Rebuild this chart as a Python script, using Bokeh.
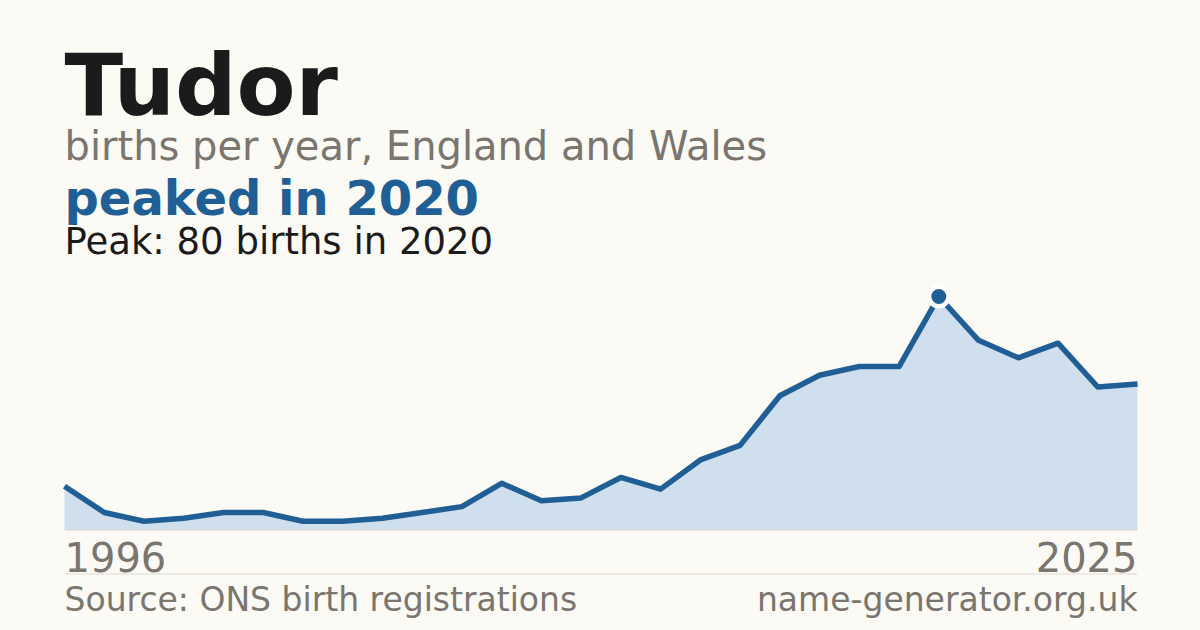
from bokeh.plotting import figure
from bokeh.models import Label, Range1d
from bokeh.embed import file_html
from bokeh.resources import INLINE

# ---- data ----
name = "Tudor"
years = [1996, 1997, 1998, 1999, 2001, 2002, 2003, 2004, 2005, 2006,
         2007, 2008, 2009, 2010, 2011, 2012, 2013, 2014, 2015, 2016,
         2017, 2018, 2020, 2021, 2022, 2023, 2024, 2025]
births = [15, 6, 3, 4, 6, 6, 3, 3, 4, 6,
          8, 16, 10, 11, 18, 14, 24, 29, 46, 53,
          56, 56, 80, 65, 59, 64, 49, 50]
subtitle = "births per year, England and Wales"
source = "Source: ONS birth registrations"
site = "name-generator.org.uk"

# ---- style / layout ----
BG = "#fbfaf5"
BLUE = "#1f5f96"
FILL = "#cfdfee"
GREY = "#7a756e"
DARK = "#1b1b1b"
RULE = "#dedad2"
FONT = "DejaVu Sans"

W, H = 1200, 630
LEFT, RIGHT = 64, 1137     # plot x extent, px
BASE = 100.5               # value 0, px from bottom
TOP = 334                  # peak value, px from bottom

n = len(births)
xs = list(range(n))
peak = max(births)
ipk = births.index(peak)
peak_year = years[ipk]

dx = (RIGHT - LEFT) / (n - 1)
ky = (TOP - BASE) / peak

p = figure(width=W, height=H, output_backend="svg", toolbar_location=None,
           x_axis_location=None, y_axis_location=None, min_border=0,
           background_fill_color=BG, border_fill_color=BG,
           outline_line_color=None,
           x_range=Range1d(-LEFT / dx, (W - LEFT) / dx),
           y_range=Range1d(-BASE / ky, (H - BASE) / ky))
p.grid.visible = False

p.varea(x=xs, y1=[0] * n, y2=births, fill_color=FILL)
p.line(x=[xs[0], xs[-1]], y=[0, 0], line_color=RULE, line_width=1.2)
sep = -44 / ky
p.line(x=[xs[0], xs[-1]], y=[sep, sep], line_color=RULE, line_width=1.2)
p.line(x=xs, y=births, line_color=BLUE, line_width=5.5, line_join="round")
p.scatter(x=[ipk], y=[peak], size=24, fill_color="white", line_color=None)
p.scatter(x=[ipk], y=[peak], size=15, fill_color=BLUE, line_color=None)

def lab(text, x, base_y, size, color, bold=False, align="left", xu="screen"):
    # base_y: baseline in px from the top of the page
    y = (H - base_y) + 0.336 * size
    p.add_layout(Label(text=text, x=x, y=y, x_units=xu, y_units="screen",
                       text_font=FONT, text_font_size=f"{size}px",
                       text_font_style="bold" if bold else "normal",
                       text_color=color, text_align=align,
                       text_baseline="alphabetic"))

lab(name, LEFT, 113.5, 86, DARK, bold=True)
lab(subtitle, LEFT, 159, 40, GREY)
lab(f"peaked in {peak_year}", LEFT, 213.5, 48, BLUE, bold=True)
lab(f"Peak: {peak} births in {peak_year}", LEFT, 253.5, 37, DARK)
lab(str(years[0]), xs[0], 570, 40, GREY, xu="data")
lab(str(years[-1]), xs[-1], 570, 40, GREY, align="right", xu="data")
lab(source, LEFT, 610, 33, GREY)
lab(site, RIGHT, 610, 33, GREY, align="right")

html = file_html(p, INLINE)
html = html.replace("<head>", "<head><style>html,body{background:%s;}</style>" % BG, 1)
open("out.html", "w").write(html)
